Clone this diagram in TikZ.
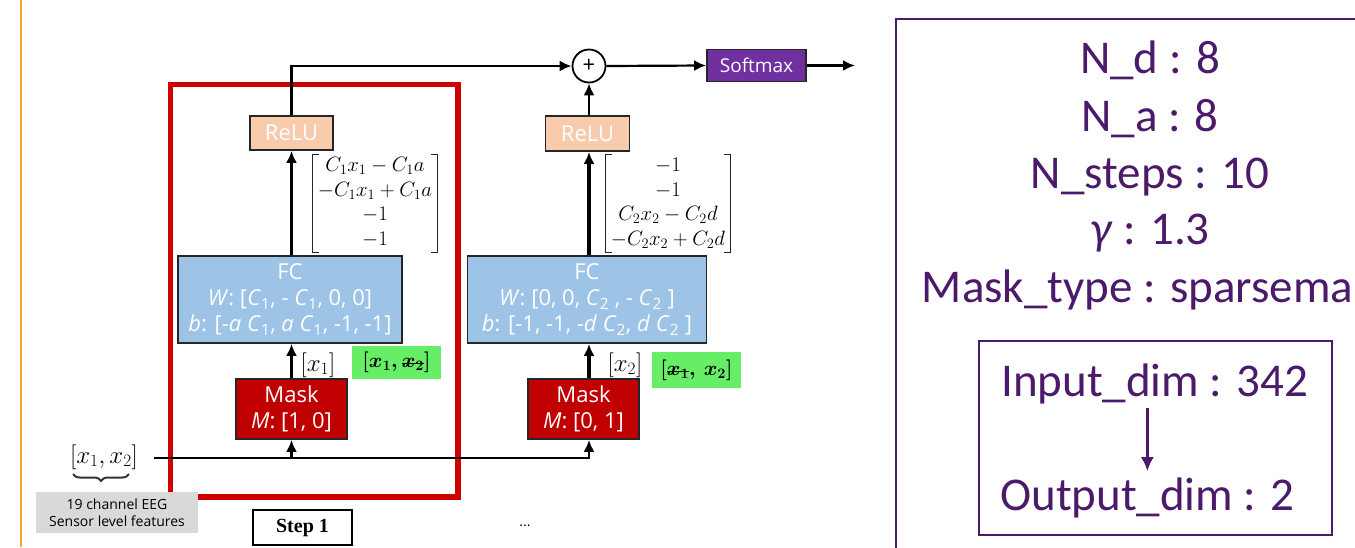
\documentclass[tikz,border=0pt]{standalone}
\usepackage[no-math]{fontspec}
\usepackage{amsmath}
\setmainfont{Open Sans}
\newfontfamily\panelfont{Carlito}
\newfontfamily\stepfont{Liberation Serif}
\usetikzlibrary{positioning,arrows.meta,decorations.pathreplacing}

\definecolor{relufill}{HTML}{F8CBAD}
\definecolor{fcfill}{HTML}{9DC3E6}
\definecolor{maskfill}{HTML}{C00000}
\definecolor{softfill}{HTML}{7030A0}
\definecolor{keepfill}{HTML}{66EE66}
\definecolor{notefill}{HTML}{D9D9D9}
\definecolor{stepred}{HTML}{CC0000}
\definecolor{panelpurple}{HTML}{4B1A6B}
\definecolor{sideorange}{HTML}{F7A529}

\newsavebox\crossbox
\newcommand{\crossout}[1]{\sbox\crossbox{#1}\rlap{\usebox\crossbox}%
  \rule[0.3ex]{\wd\crossbox}{1.3pt}}
\newcommand{\Csub}[1]{\textit{C}$_{\text{#1}}$}
\newcommand{\keepone}{{\boldmath$[x_1,\,$\crossout{$x_2$}$]$}}
\newcommand{\keeptwo}{{\boldmath$[$\crossout{$x_1$}$,\,x_2]$}}
\newcommand{\selone}{$[x_1]$}
\newcommand{\seltwo}{$[x_2]$}
\newcommand{\featvec}{$[x_1, x_2]$}

\tikzset{
  block/.style = {draw = black!85, line width = 1.8pt, text = white,
                  align = center, inner sep = 0pt,
                  font = \fontsize{22}{26}\selectfont},
  link/.style = {line width = 2.2pt, -{Latex[length = 12pt, width = 11pt]}},
  thicklink/.style = {line width = 3.2pt, -{Latex[length = 12pt, width = 11pt]}},
  keepbox/.style = {fill = keepfill, minimum width = 89pt, minimum height = 33pt,
                    inner sep = 0pt, font = \fontsize{20}{24}\selectfont},
  vec/.style = {inner xsep = 5pt, inner ysep = 0pt,
                font = \fontsize{21}{24.5}\selectfont},
  bracket/.style = {line width = 1.4pt, black!85},
  panel/.style = {text = panelpurple, inner sep = 0pt,
                  font = \panelfont\fontsize{47}{56}\selectfont}
}

\begin{document}
\begin{tikzpicture}[x = 1pt, y = -1pt]
  \clip (0,0) rectangle (1355,547);
  \draw [sideorange, line width = 2.5pt] (21,0) -- (21,547);
  % step 1 frame
  \draw [stepred, line width = 5.5pt] (170.5,84.5) rectangle (458,497);

  % blocks of step 1
  \node [block, fill = relufill, minimum width = 83pt, minimum height = 34pt]
    (relu1) at (291.5,133) {ReLU};
  \node [block, fill = fcfill, minimum width = 224pt, minimum height = 87pt]
    (fc1) at (290,299.5) {FC\\ \textit{W}: [\Csub{1}, - \Csub{1}, 0, 0]\\
    \textit{b}: [-\textit{a} \Csub{1}, \textit{a} \Csub{1}, -1, -1]};
  \node [block, fill = maskfill, minimum width = 111pt, minimum height = 60pt]
    (mask1) at (291.5,409) {Mask\\ \textit{M}: [1, 0]};
  \node [vec] (mat1) at (375,203.5)
    {$\begin{array}{@{}c@{}} C_1x_1 - C_1a \\ -C_1x_1 + C_1a \\ -1 \\ -1 \end{array}$};
  \draw [bracket] ([xshift = 6pt]mat1.north west) -- (mat1.north west)
    -- (mat1.south west) -- ++(6,0);
  \draw [bracket] ([xshift = -6pt]mat1.north east) -- (mat1.north east)
    -- (mat1.south east) -- ++(-6,0);
  \node [inner sep = 0pt, font = \fontsize{24}{28}\selectfont] (sel1) at (318,365) {\selone};
  \node [keepbox] (keep1) at (396.5,362) {\keepone};

  % blocks of step 2
  \node [block, fill = relufill, minimum width = 84pt, minimum height = 35pt]
    (relu2) at (587.5,133.5) {ReLU};
  \node [block, fill = fcfill, minimum width = 239pt, minimum height = 87pt]
    (fc2) at (587,299.5) {FC\\ \textit{W}: [0, 0, \Csub{2} , - \Csub{2} ]\\
    \textit{b}: [-1, -1, -\textit{d} \Csub{2}, \textit{d} \Csub{2} ]};
  \node [block, fill = maskfill, minimum width = 111pt, minimum height = 60pt]
    (mask2) at (583.5,409) {Mask\\ \textit{M}: [0, 1]};
  \node [vec] (mat2) at (668,203.5)
    {$\begin{array}{@{}c@{}} -1 \\ -1 \\ C_2x_2 - C_2d \\ -C_2x_2 + C_2d \end{array}$};
  \draw [bracket] ([xshift = 6pt]mat2.north west) -- (mat2.north west)
    -- (mat2.south west) -- ++(6,0);
  \draw [bracket] ([xshift = -6pt]mat2.north east) -- (mat2.north east)
    -- (mat2.south east) -- ++(-6,0);
  \node [inner sep = 0pt, font = \fontsize{24}{28}\selectfont] (sel2) at (625,365) {\seltwo};
  \node [keepbox, minimum height = 36pt] (keep2) at (696.5,370) {\keeptwo};

  % sum and output
  \node [circle, draw, line width = 1.8pt, fill = white, minimum size = 33pt,
    inner sep = 0pt, font = \fontsize{22}{22}\selectfont] (plus) at (589,66) {+};
  \node [block, fill = softfill, minimum width = 99pt, minimum height = 32pt,
    font = \fontsize{19}{22}\selectfont] (soft) at (756.5,65.5) {Softmax};
  \coordinate (out) at (855,65.5);

  % input
  \node [inner sep = 0pt, font = \fontsize{24}{28}\selectfont] (feat) at (104,457) {\featvec};
  \coordinate (in) at (154,458);
  \coordinate (bl) at (73,474);
  \coordinate (br) at (129,474);
  \draw [decorate, decoration = {brace, amplitude = 7pt, mirror},
    line width = 2pt, black!80] (bl) -- (br);
  \node [fill = notefill, minimum width = 162pt, minimum height = 41pt,
    inner sep = 0pt, align = center, font = \fontsize{14}{16.5}\selectfont]
    (note) at (117,512.5) {19 channel EEG\\Sensor level features};
  \node [draw, line width = 2.5pt, minimum width = 99pt, minimum height = 35pt,
    inner sep = 0pt, font = \stepfont\bfseries\fontsize{20}{24}\selectfont]
    (step) at (302.5,527.5) {Step 1};
  \node [font = \fontsize{14}{16}\selectfont] (dots) at (525,526) {...};

  % connections
  \draw [link] (in) -| (mask2.south -| plus);
  \draw [link] (mask1.south |- in) -- (mask1.south);
  \draw [thicklink] (mask1.north) -- (mask1.north |- fc1.south);
  \draw [thicklink] (fc1.north -| relu1) -- (relu1.south);
  \draw [thicklink] (mask2.north -| plus) -- (fc2.south -| plus);
  \draw [thicklink] (fc2.north -| plus) -- (relu2.south -| plus);
  \draw [link] (relu1.north) |- (plus.west);
  \draw [link] (relu2.north -| plus) -- (plus.south);
  \draw [link] (plus.east) -- (soft.west);
  \draw [link] (soft.east) -- (out);

  % hyper-parameter panel
  \draw [panelpurple, line width = 1.8pt] (896,19) rectangle (1370,560);
  \node [panel, anchor = base] (nd) at (1150,73) {N\_d : 8};
  \node [panel, anchor = base] (na) at (1150,131) {N\_a : 8};
  \node [panel, anchor = base] (nsteps) at (1150,188) {N\_steps : 10};
  \node [panel, anchor = base] (gam) at (1150,244) {\textit{γ} : 1.3};
  \node [panel, anchor = base west] (mtype) at (921.7,302) {Mask\_type : sparsema};
  \draw [panelpurple, line width = 1.5pt] (979,341) rectangle (1332,535);
  \node [panel, anchor = base west] (indim) at (1001,396) {Input\_dim : 342};
  \node [panel, anchor = base west] (outdim) at (1000,510) {Output\_dim : 2};
  \draw [panelpurple, line width = 2.5pt, -{Latex[length = 14pt, width = 13pt]}]
    ([yshift = -4pt]indim.south -| outdim.north) -- ([yshift = 6pt]outdim.north);
\end{tikzpicture}
\end{document}
